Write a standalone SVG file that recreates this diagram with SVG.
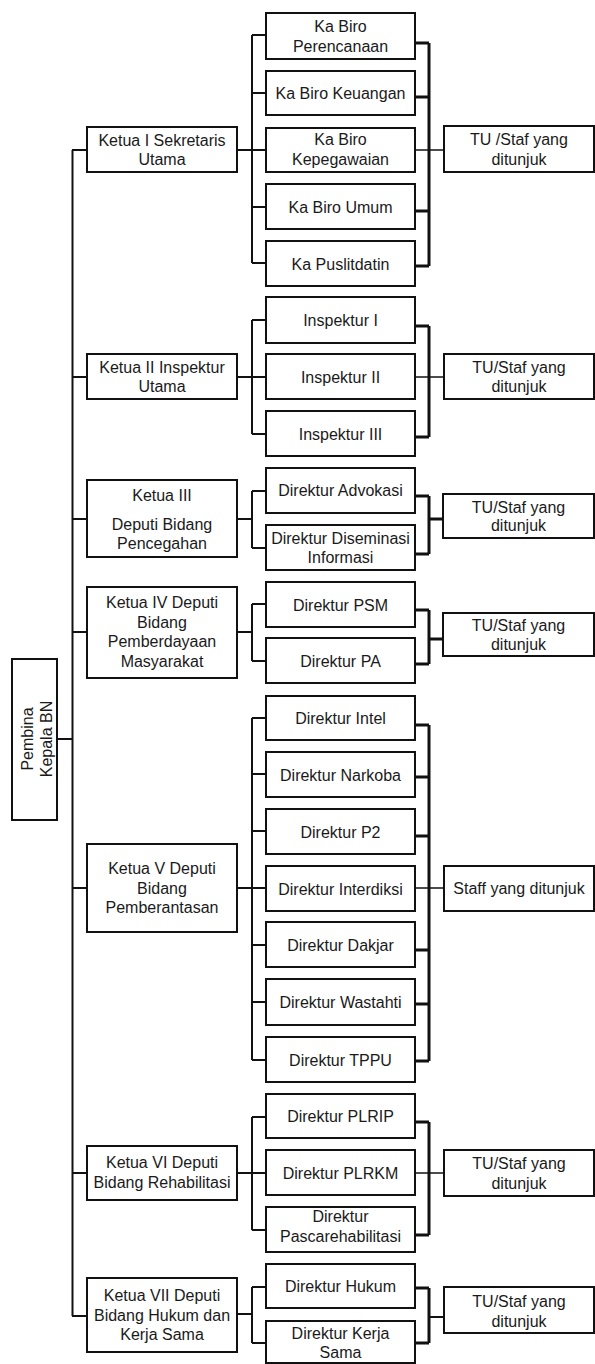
<svg xmlns="http://www.w3.org/2000/svg" width="595" height="1364" viewBox="0 0 595 1364">
<style>
rect.b{fill:#fff;stroke:#111;stroke-width:2}
text{font-family:"Liberation Sans",Arial,sans-serif;font-size:16px;fill:#1a1a1a;text-anchor:middle}
.l{fill:none;stroke:#111;stroke-width:2}
.r{fill:none;stroke:#111;stroke-width:3}
.t{fill:none;stroke:#111;stroke-width:1.5}
</style>
<rect width="595" height="1364" fill="#fff"/>
<g id="connectors">
<path class="l" d="M72.5 150V1316M57 739H72.5M72 150H87M72 377H87M72 519H87M72 632H87M72 888H87M72 1173H87M72 1316H87"/>
<path class="l" d="M237 150H266M252 35V263M252 35H266M252 93H266M252 207H266M252 263H266"/>
<path class="r" d="M415 43H429M415 97H429M415 211H429M415 266H429M429 43V266"/>
<path class="t" d="M415 150H444"/>
<path class="l" d="M237 377H266M252 320V434M252 320H266M252 434H266"/>
<path class="r" d="M415 326H429M415 437H429M429 326V437"/>
<path class="t" d="M415 377H444"/>
<path class="l" d="M237 519H252M252 491V548M252 491H266M252 548H266"/>
<path class="r" d="M415 496H429M415 554H429M429 496V554M429 519H443"/>
<path class="l" d="M237 632H252M252 604V661M252 604H266M252 661H266"/>
<path class="r" d="M415 610H429M415 664H429M429 610V664M429 639H443"/>
<path class="l" d="M237 888H266M252 718V1060M252 718H266M252 774H266M252 831H266M252 945H266M252 1002H266M252 1060H266"/>
<path class="r" d="M415 725H429M415 777H429M415 836H429M415 950H429M415 1004H429M415 1061H429M429 725V1061"/>
<path class="t" d="M415 888H444"/>
<path class="l" d="M237 1173H266M252 1117V1230M252 1117H266M252 1230H266"/>
<path class="r" d="M415 1122H429M415 1235H429M429 1122V1235"/>
<path class="t" d="M415 1173H444"/>
<path class="l" d="M237 1314H252M252 1287V1343M252 1287H266M252 1343H266"/>
<path class="r" d="M415 1288H429M415 1343H429M429 1288V1343"/>
<path class="l" d="M429 1317H444"/>
</g>
<g id="pembina"><rect class="b" x="12" y="659" width="45" height="161"/><g transform="translate(34.5 739) rotate(-90)"><text x="0" y="-2">Pembina</text><text x="0" y="17">Kepala BN</text></g></g>
<g id="ketua1"><rect class="b" x="87" y="127" width="150" height="45"/><text x="162" y="145.5">Ketua I Sekretaris</text><text x="162" y="165">Utama</text></g>
<g id="ketua2"><rect class="b" x="87" y="354" width="150" height="45"/><text x="162" y="372.5">Ketua II Inspektur</text><text x="162" y="392">Utama</text></g>
<g id="ketua3"><rect class="b" x="87" y="480" width="150" height="77"/><text x="162" y="501">Ketua III</text><text x="162" y="529.5">Deputi Bidang</text><text x="162" y="548.5">Pencegahan</text></g>
<g id="ketua4"><rect class="b" x="87" y="587" width="150" height="91"/><text x="162" y="608">Ketua IV Deputi</text><text x="162" y="627.5">Bidang</text><text x="162" y="647">Pemberdayaan</text><text x="162" y="666.5">Masyarakat</text></g>
<g id="ketua5"><rect class="b" x="87" y="844" width="150" height="88"/><text x="162" y="874">Ketua V Deputi</text><text x="162" y="893.5">Bidang</text><text x="162" y="913">Pemberantasan</text></g>
<g id="ketua6"><rect class="b" x="87" y="1146" width="150" height="54"/><text x="162" y="1168">Ketua VI Deputi</text><text x="162" y="1188">Bidang Rehabilitasi</text></g>
<g id="ketua7"><rect class="b" x="87" y="1278" width="150" height="74"/><text x="162" y="1301">Ketua VII Deputi</text><text x="162" y="1320.5">Bidang Hukum dan</text><text x="162" y="1340">Kerja Sama</text></g>
<g id="perencanaan"><rect class="b" x="266" y="13" width="149" height="46"/><text x="340.5" y="32">Ka Biro</text><text x="340.5" y="51.5">Perencanaan</text></g>
<g id="keuangan"><rect class="b" x="266" y="71" width="149" height="44"/><text x="340.5" y="99">Ka Biro Keuangan</text></g>
<g id="kepegawaian"><rect class="b" x="266" y="128" width="149" height="44"/><text x="340.5" y="145">Ka Biro</text><text x="340.5" y="164.5">Kepegawaian</text></g>
<g id="umum"><rect class="b" x="266" y="184" width="149" height="45"/><text x="340.5" y="212.5">Ka Biro Umum</text></g>
<g id="puslitdatin"><rect class="b" x="266" y="241" width="149" height="45"/><text x="340.5" y="269.5">Ka Puslitdatin</text></g>
<g id="tu1"><rect class="b" x="444" y="126" width="150" height="46"/><text x="519" y="145">TU /Staf yang</text><text x="519" y="164.5">ditunjuk</text></g>
<g id="inspektur1"><rect class="b" x="266" y="297" width="149" height="46"/><text x="340.5" y="326">Inspektur I</text></g>
<g id="inspektur2"><rect class="b" x="266" y="354" width="149" height="45"/><text x="340.5" y="382.5">Inspektur II</text></g>
<g id="inspektur3"><rect class="b" x="266" y="411" width="149" height="45"/><text x="340.5" y="439.5">Inspektur III</text></g>
<g id="tu2"><rect class="b" x="444" y="354" width="150" height="45"/><text x="519" y="372.5">TU/Staf yang</text><text x="519" y="392">ditunjuk</text></g>
<g id="advokasi"><rect class="b" x="266" y="468" width="149" height="45"/><text x="340.5" y="495.5">Direktur Advokasi</text></g>
<g id="diseminasi"><rect class="b" x="266" y="525" width="149" height="45"/><text x="340.5" y="543.5">Direktur Diseminasi</text><text x="340.5" y="563">Informasi</text></g>
<g id="tu3"><rect class="b" x="443" y="494" width="151" height="44"/><text x="518.5" y="512.5">TU/Staf yang</text><text x="518.5" y="531">ditunjuk</text></g>
<g id="psm"><rect class="b" x="266" y="582" width="149" height="45"/><text x="340.5" y="610.5">Direktur PSM</text></g>
<g id="pa"><rect class="b" x="266" y="638" width="149" height="45"/><text x="340.5" y="666.5">Direktur PA</text></g>
<g id="tu4"><rect class="b" x="443" y="613" width="151" height="43"/><text x="518.5" y="630.5">TU/Staf yang</text><text x="518.5" y="649.5">ditunjuk</text></g>
<g id="intel"><rect class="b" x="266" y="696" width="149" height="44"/><text x="340.5" y="724">Direktur Intel</text></g>
<g id="narkoba"><rect class="b" x="266" y="752" width="149" height="45"/><text x="340.5" y="780.5">Direktur Narkoba</text></g>
<g id="p2"><rect class="b" x="266" y="809" width="149" height="45"/><text x="340.5" y="837.5">Direktur P2</text></g>
<g id="interdiksi"><rect class="b" x="266" y="866" width="149" height="45"/><text x="340.5" y="894.5">Direktur Interdiksi</text></g>
<g id="dakjar"><rect class="b" x="266" y="922" width="149" height="45"/><text x="340.5" y="950.5">Direktur Dakjar</text></g>
<g id="wastahti"><rect class="b" x="266" y="979" width="149" height="46"/><text x="340.5" y="1008">Direktur Wastahti</text></g>
<g id="tppu"><rect class="b" x="266" y="1037" width="149" height="45"/><text x="340.5" y="1065.5">Direktur TPPU</text></g>
<g id="staff5"><rect class="b" x="444" y="866" width="150" height="45"/><text x="519" y="894">Staff yang ditunjuk</text></g>
<g id="plrip"><rect class="b" x="266" y="1094" width="149" height="44"/><text x="340.5" y="1122">Direktur PLRIP</text></g>
<g id="plrkm"><rect class="b" x="266" y="1150" width="149" height="45"/><text x="340.5" y="1178.5">Direktur PLRKM</text></g>
<g id="pascarehab"><rect class="b" x="266" y="1207" width="149" height="45"/><text x="340.5" y="1222">Direktur</text><text x="340.5" y="1241.5">Pascarehabilitasi</text></g>
<g id="tu6"><rect class="b" x="444" y="1150" width="150" height="46"/><text x="519" y="1169">TU/Staf yang</text><text x="519" y="1188.5">ditunjuk</text></g>
<g id="hukum"><rect class="b" x="266" y="1264" width="149" height="44"/><text x="340.5" y="1292">Direktur Hukum</text></g>
<g id="kerjasama"><rect class="b" x="266" y="1321" width="149" height="42"/><text x="340.5" y="1338.5">Direktur Kerja</text><text x="340.5" y="1358">Sama</text></g>
<g id="tu7"><rect class="b" x="444" y="1287" width="150" height="46"/><text x="519" y="1307">TU/Staf yang</text><text x="519" y="1326.5">ditunjuk</text></g>
</svg>
